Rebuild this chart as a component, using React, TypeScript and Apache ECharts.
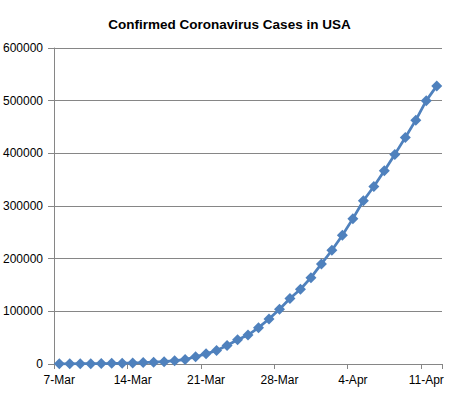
import React, { useEffect, useRef } from "react";
import * as echarts from "echarts";

const dates: string[] = [
  "7-Mar", "8-Mar", "9-Mar", "10-Mar", "11-Mar", "12-Mar", "13-Mar",
  "14-Mar", "15-Mar", "16-Mar", "17-Mar", "18-Mar", "19-Mar", "20-Mar",
  "21-Mar", "22-Mar", "23-Mar", "24-Mar", "25-Mar", "26-Mar", "27-Mar",
  "28-Mar", "29-Mar", "30-Mar", "31-Mar", "1-Apr", "2-Apr", "3-Apr",
  "4-Apr", "5-Apr", "6-Apr", "7-Apr", "8-Apr", "9-Apr", "10-Apr",
  "11-Apr", "12-Apr",
];

const cases: number[] = [
  300, 400, 500, 600, 900, 1200, 1600,
  2100, 2700, 3400, 4500, 6400, 8500, 13700,
  19300, 25600, 35000, 46000, 55000, 69000, 85500,
  104000, 124500, 142000, 164000, 190000, 216000, 244500,
  276000, 310000, 337000, 367000, 398000, 430000, 463000,
  500000, 528000,
];

const yTicks = { min: 0, max: 600000, interval: 100000 };

const titleText = "Confirmed Coronavirus Cases in USA";

export default function App() {
  const ref = useRef<HTMLDivElement>(null);
  useEffect(() => {
    if (!ref.current) return;
    const chart = echarts.init(ref.current, null, { renderer: "svg" });
    const font = "'Liberation Sans', Arial, sans-serif";
    chart.setOption({
      animation: false,
      backgroundColor: "#ffffff",
      title: {
        text: titleText,
        left: "center",
        top: 12,
        textStyle: { fontFamily: font, fontSize: 13.5, fontWeight: "bold", color: "#000" },
      },
      grid: { left: 53, right: 17, top: 48, bottom: 33, containLabel: false },
      xAxis: {
        type: "category",
        data: dates,
        boundaryGap: true,
        axisLine: { show: true, lineStyle: { color: "#868686", width: 1 } },
        axisTick: { show: true, interval: 6, alignWithLabel: false, length: 5, lineStyle: { color: "#868686" } },
        axisLabel: { interval: 6, fontFamily: font, fontSize: 12, color: "#000", margin: 10 },
        splitLine: { show: false },
      },
      yAxis: {
        type: "value",
        min: yTicks.min,
        max: yTicks.max,
        interval: yTicks.interval,
        axisLine: { show: true, lineStyle: { color: "#868686", width: 1 } },
        axisTick: { show: true, length: 6, lineStyle: { color: "#868686" } },
        axisLabel: {
          fontFamily: font,
          fontSize: 12,
          color: "#000",
          margin: 11,
          formatter: (v: number) => String(v),
        },
        splitLine: { show: true, lineStyle: { color: "#868686", width: 1 } },
      },
      series: [
        {
          type: "line",
          data: cases,
          symbol: "diamond",
          symbolSize: 11,
          showAllSymbol: true,
          lineStyle: { color: "#4F81BD", width: 2.75 },
          itemStyle: { color: "#4F81BD" },
        },
      ],
    });
    return () => chart.dispose();
  }, []);
  return (
    <div
      ref={ref}
      style={{ position: "fixed", left: 0, top: 0, width: 459, height: 397 }}
    />
  );
}
